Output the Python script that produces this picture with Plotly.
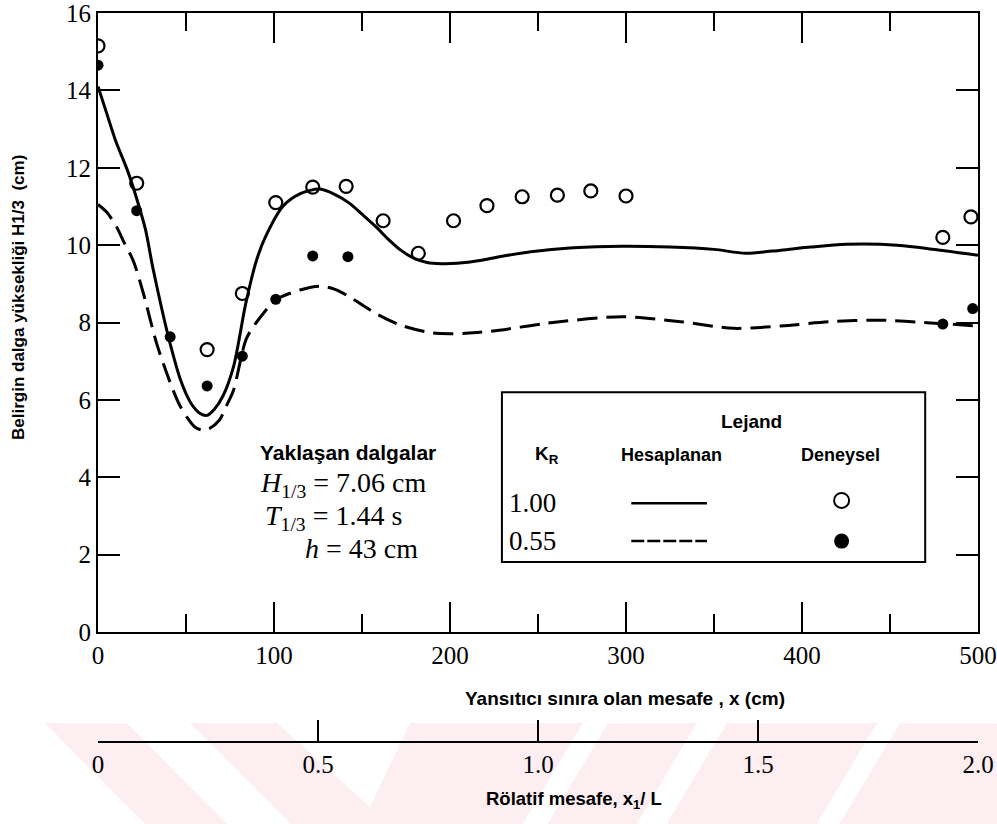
import plotly.graph_objects as go

# ---------------- data ----------------
# Experimental, K_R = 1.00 (open circles)
exp100_x = [0, 22, 62, 82, 101, 122, 141, 162, 182, 202, 221, 241, 261, 280, 300, 480, 496]
exp100_y = [15.15, 11.6, 7.3, 8.75, 11.1, 11.5, 11.52, 10.63, 9.79, 10.63, 11.02, 11.25, 11.29, 11.4, 11.27, 10.2, 10.73]

# Experimental, K_R = 0.55 (filled circles)
exp055_x = [0, 22, 41, 62, 82, 101, 122, 142, 480, 497]
exp055_y = [14.65, 10.89, 7.63, 6.36, 7.13, 8.6, 9.72, 9.7, 7.96, 8.36]

# Computed, K_R = 1.00 (solid)
calc100_x = [0, 5, 10, 17, 22, 27, 31, 36, 41, 47, 53, 58, 62, 66, 71, 77, 84, 90, 95, 105,
             115, 126, 135, 143, 150, 158, 165, 172, 180, 187, 195, 204, 217, 228, 246, 270,
             298, 325, 350, 368, 388, 405, 425, 454, 482, 500]
calc100_y = [14.1, 13.4, 12.7, 11.9, 11.2, 10.4, 9.45, 8.4, 7.45, 6.5, 5.9, 5.65, 5.6, 5.75, 6.1, 6.86, 8.5, 9.6, 10.2, 11.0,
             11.33, 11.45, 11.3, 11.08, 10.8, 10.47, 10.15, 9.87, 9.65, 9.55, 9.52, 9.53, 9.6, 9.7, 9.83, 9.93,
             9.97, 9.95, 9.89, 9.79, 9.87, 9.95, 10.02, 10.0, 9.85, 9.74]

# Computed, K_R = 0.55 (dashed)
calc055_x = [0, 5, 10.6, 15, 20, 25.8, 33.3, 41, 46, 50.4, 55, 59, 63, 69, 73, 77, 84.5, 94, 101.5, 114.8,
             126, 135, 143, 158, 172, 190, 209, 228, 255, 298, 331, 361, 388, 416, 444, 473, 500]
calc055_y = [11.05, 10.85, 10.47, 10.05, 9.6, 8.75, 7.46, 6.45, 5.9, 5.56, 5.3, 5.22, 5.25, 5.48, 5.85, 6.25, 7.6, 8.24, 8.6, 8.84,
             8.94, 8.85, 8.66, 8.23, 7.93, 7.73, 7.72, 7.8, 7.98, 8.15, 8.02, 7.85, 7.91, 8.02, 8.06, 7.99, 7.91]

x_ticks = [0, 100, 200, 300, 400, 500]
y_ticks = [0, 2, 4, 6, 8, 10, 12, 14, 16]
rel_ticks = [0, 0.5, 1.0, 1.5, 2.0]
rel_labels = ["0", "0.5", "1.0", "1.5", "2.0"]

# ---------------- layout geometry ----------------
W, H = 997, 824
ML, MT = 98, 13
PLOT_RIGHT = 978
PLOT_BOTTOM = 632
PAPER_BOTTOM = 742
MR = W - PLOT_RIGHT
MB = H - PAPER_BOTTOM
PW = W - ML - MR
PH = H - MT - MB
ydom0 = (PAPER_BOTTOM - PLOT_BOTTOM) / PH


def px2paper(px, py):
    """picture pixel -> paper coords"""
    return (px - ML) / PW, (PAPER_BOTTOM - py) / PH


SERIF = "Liberation Serif"
SANS = "Liberation Sans"

fig = go.Figure()

fig.add_trace(go.Scatter(x=calc100_x, y=calc100_y, mode="lines",
                         line=dict(color="black", width=3, shape="spline", smoothing=0.8),
                         showlegend=False, hoverinfo="skip"))
fig.add_trace(go.Scatter(x=calc055_x, y=calc055_y, mode="lines",
                         line=dict(color="black", width=3, dash="20px,9px", shape="spline", smoothing=0.8),
                         showlegend=False, hoverinfo="skip"))
fig.add_trace(go.Scatter(x=exp100_x, y=exp100_y, mode="markers",
                         marker=dict(symbol="circle-open", size=13, color="black", line=dict(width=2.2)),
                         showlegend=False))
fig.add_trace(go.Scatter(x=exp055_x, y=exp055_y, mode="markers",
                         marker=dict(symbol="circle", size=11, color="black"),
                         showlegend=False))
# helper trace for the relative-distance axis
fig.add_trace(go.Scatter(x=[rel_ticks[0], rel_ticks[-1]], y=[0, 0], xaxis="x2", mode="markers",
                         marker=dict(opacity=0), showlegend=False, hoverinfo="skip"))

shapes = []
# watermark (pale pink diagonal bands in the bottom margin)
wm_polys = [
    [(45, 723), (127, 723), (233, 830), (151, 830)],
    [(190, 723), (277, 723), (370, 807), (410, 723), (583, 723), (519, 830), (297, 830)],
    [(608, 723), (697, 723), (633, 830), (544, 830)],
    [(727, 723), (877, 723), (813, 830), (663, 830)],
    [(900, 723), (1000, 723), (1000, 830), (836, 830)],
]
for poly in wm_polys:
    pts = [px2paper(a, b) for a, b in poly]
    path = "M " + " L ".join(f"{a:.4f},{b:.4f}" for a, b in pts) + " Z"
    shapes.append(dict(type="path", xref="paper", yref="paper", path=path,
                       fillcolor="#fdeef1", line=dict(width=0), layer="below"))

# legend box
shapes.append(dict(type="rect", xref="x", yref="y", x0=229.5, x1=470, y0=1.81, y1=6.2,
                   line=dict(color="black", width=2), fillcolor="rgba(0,0,0,0)"))
# legend line samples
shapes.append(dict(type="line", xref="x", yref="y", x0=303, x1=346, y0=3.33, y1=3.33,
                   line=dict(color="black", width=2.5)))
shapes.append(dict(type="line", xref="x", yref="y", x0=303, x1=346, y0=2.35, y1=2.35,
                   line=dict(color="black", width=2.5, dash="13px,3px")))

annotations = []


def txt(x, y, text, size, family=SANS, xanchor="center", xref="x", yref="y", textangle=0):
    annotations.append(dict(x=x, y=y, xref=xref, yref=yref, text=text, showarrow=False,
                            xanchor=xanchor, yanchor="middle", textangle=textangle,
                            font=dict(family=family, size=size, color="black")))


# legend texts
txt(371.4, 5.43, "<b>Lejand</b>", 19)
txt(254.9, 4.57, "<b>K<sub>R</sub></b>", 19)
txt(325.9, 4.57, "<b>Hesaplanan</b>", 18)
txt(421.6, 4.57, "<b>Deneysel</b>", 18)
txt(247, 3.33, "1.00", 27, SERIF)
txt(247, 2.35, "0.55", 27, SERIF)
fig.add_trace(go.Scatter(x=[422.5], y=[3.4], mode="markers",
                         marker=dict(symbol="circle-open", size=15, color="black", line=dict(width=2)),
                         showlegend=False, hoverinfo="skip"))
fig.add_trace(go.Scatter(x=[422.5], y=[2.35], mode="markers",
                         marker=dict(symbol="circle", size=15, color="black"),
                         showlegend=False, hoverinfo="skip"))

# incident wave info
txt(90.9, 4.65, "<b>Yaklaşan dalgalar</b>", 21, xanchor="left")
txt(90.9, 3.80, "<i>H</i><sub>1/3</sub> = 7.06 cm", 28, SERIF, xanchor="left")
txt(93.8, 2.97, "<i>T</i><sub>1/3</sub> = 1.44 s", 28, SERIF, xanchor="left")
txt(116.5, 2.17, "<i>h</i> = 43 cm", 28, SERIF, xanchor="left")

# axis titles
ax, ay = px2paper(625, 698)
txt(ax, ay, "<b>Yansıtıcı sınıra olan mesafe , x (cm)</b>", 19, xref="paper", yref="paper")
ax, ay = px2paper(574, 800)
txt(ax, ay, "<b>Rölatif mesafe, x<sub>1</sub>/ L</b>", 18.5, xref="paper", yref="paper")
ax, ay = px2paper(18, 298)
txt(ax, ay, "<b>Belirgin dalga yüksekliği H1/3  (cm)</b>", 17, xref="paper", yref="paper", textangle=-90)

fig.update_layout(
    width=W, height=H,
    margin=dict(l=ML, r=MR, t=MT, b=MB),
    paper_bgcolor="white", plot_bgcolor="white",
    showlegend=False,
    shapes=shapes, annotations=annotations,
    xaxis=dict(range=[0, 500], tickvals=x_ticks, ticks="inside", ticklen=30, tickwidth=2,
               tickcolor="black", showline=True, linewidth=2, linecolor="black", mirror="ticks",
               showgrid=False, zeroline=False, automargin=False, ticklabeloverflow="allow",
               minor=dict(dtick=50, ticks="inside", ticklen=18, tickwidth=2, tickcolor="black", showgrid=False),
               tickfont=dict(family=SERIF, size=25, color="black"), anchor="y"),
    yaxis=dict(range=[0, 16], tickvals=y_ticks, ticks="inside", ticklen=22, tickwidth=2,
               tickcolor="black", showline=True, linewidth=2, linecolor="black", mirror="ticks",
               showgrid=False, zeroline=False, automargin=False, domain=[ydom0, 1],
               ticklabeloverflow="allow",
               tickfont=dict(family=SERIF, size=25, color="black")),
    xaxis2=dict(range=[0, 2], overlaying="x", anchor="free", position=0, side="bottom",
                tickvals=rel_ticks, ticktext=rel_labels, ticks="inside", ticklen=21, tickwidth=2,
                tickcolor="black", showline=True, linewidth=2, linecolor="black",
                showgrid=False, zeroline=False, automargin=False, ticklabeloverflow="allow",
                tickfont=dict(family=SERIF, size=25, color="black")),
)

fig.write_html("out.html", config={"displayModeBar": False},
               post_script="document.body.style.margin='0';document.body.style.overflow='hidden';")
